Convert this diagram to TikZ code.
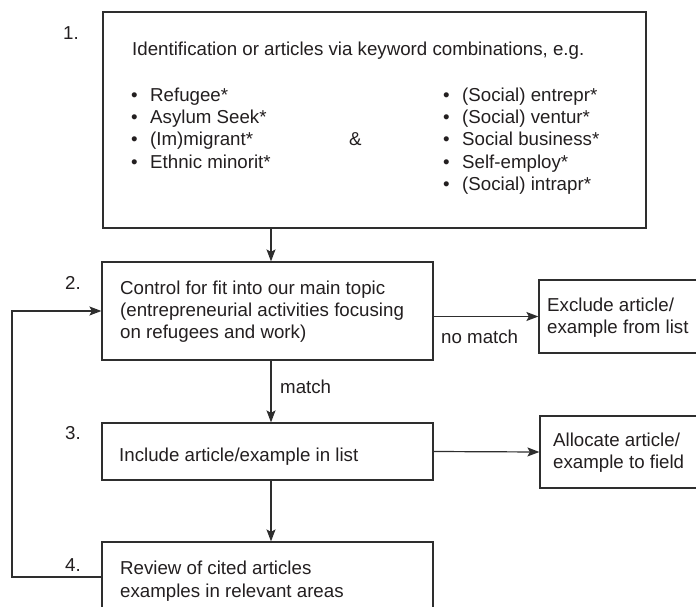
\documentclass[tikz,border=0pt]{standalone}
\usepackage{fontspec}
\setmainfont{Liberation Sans}
\usetikzlibrary{arrows.meta}
\newcommand\dfont{\fontsize{18.7}{22}\selectfont}
\newcommand\bul{\makebox[19pt][l]{•}}
\definecolor{lc}{HTML}{2E2E2E}
\definecolor{tc}{HTML}{231F20}
\tikzset{
  box/.style={draw=lc, line width=1.2pt, inner sep=0pt, fill=none},
  txt/.style={anchor=base west, inner sep=0pt, text=tc, font=\dfont},
  num/.style={anchor=base, inner sep=0pt, text=tc, font=\dfont},
  arr/.style={draw=lc, line width=1.2pt, -{Stealth[length=12pt,width=9pt,inset=2.5pt]}}
}
\begin{document}
\begin{tikzpicture}[x=1pt,y=-1pt]
\clip (0,0) rectangle (696,607);
\fill[white] (0,0) rectangle (696,607);
% boxes
\node[box, minimum width=543pt, minimum height=216pt] (b1) at (374.5,120) {};
\node[box, minimum width=331pt, minimum height=98pt] (b2) at (267.5,311) {};
\node[box, minimum width=331pt, minimum height=57pt] (b3) at (267.5,451.5) {};
\node[box, minimum width=331pt, minimum height=70pt] (b4) at (267.5,577) {};
\node[box, minimum width=181pt, minimum height=73pt] (ex) at (629.5,316.5) {};
\node[box, minimum width=180pt, minimum height=72pt] (al) at (630,452) {};
% numbers
\node[num] (n1) at (71,40) {1.};
\node[num] (n2) at (73,289) {2.};
\node[num] (n3) at (73,439) {3.};
\node[num] (n4) at (73,571) {4.};
% box 1 text
\node[txt] (t1) at (132,56) {Identification or articles via keyword combinations, e.g.};
\node[txt] (l1) at (131,102) {\bul Refugee*};
\node[txt] (l2) at (131,124) {\bul Asylum Seek*};
\node[txt] (l3) at (131,146) {\bul (Im)migrant*};
\node[txt] (l4) at (131,168) {\bul Ethnic minorit*};
\node[txt] (amp) at (349,146) {\&};
\node[txt] (r1) at (443,102) {\bul (Social) entrepr*};
\node[txt] (r2) at (443,124) {\bul (Social) ventur*};
\node[txt] (r3) at (443,146) {\bul Social business*};
\node[txt] (r4) at (443,168) {\bul Self-employ*};
\node[txt] (r5) at (443,190) {\bul (Social) intrapr*};
% box 2 text
\node[txt] (t2a) at (120,294) {Control for fit into our main topic};
\node[txt] (t2b) at (120,316) {(entrepreneurial activities focusing};
\node[txt] (t2c) at (120,338) {on refugees and work)};
% box 3 text
\node[txt] (t3) at (119,461) {Include article/example in list};
% box 4 text
\node[txt] (t4a) at (120,574) {Review of cited articles};
\node[txt] (t4b) at (120,597) {examples in relevant areas};
% side boxes text
\node[txt] (exa) at (547,311) {Exclude article/};
\node[txt] (exb) at (547,333) {example from list};
\node[txt] (ala) at (553,446) {Allocate article/};
\node[txt] (alb) at (553,468) {example to field};
% labels
\node[txt] (nm) at (441,343) {no match};
\node[txt] (m) at (280,393) {match};
% connectors
\draw[arr] ([xshift=3.5pt]b2.north |- b1.south) -- ([xshift=3.5pt]b2.north);
\draw[arr] ([xshift=3.5pt]b2.south) -- ([xshift=3.5pt]b3.north);
\draw[arr] ([xshift=3.5pt]b3.south) -- ([xshift=3.5pt]b4.north);
\draw[arr] (b2.east |- ex.west) -- (ex.west);
\draw[arr] (b3.east) -- (al.west);
\coordinate (fb) at (12,577);
\draw[arr] (b4.west) -- (fb) |- (b2.west);
\end{tikzpicture}
\end{document}
